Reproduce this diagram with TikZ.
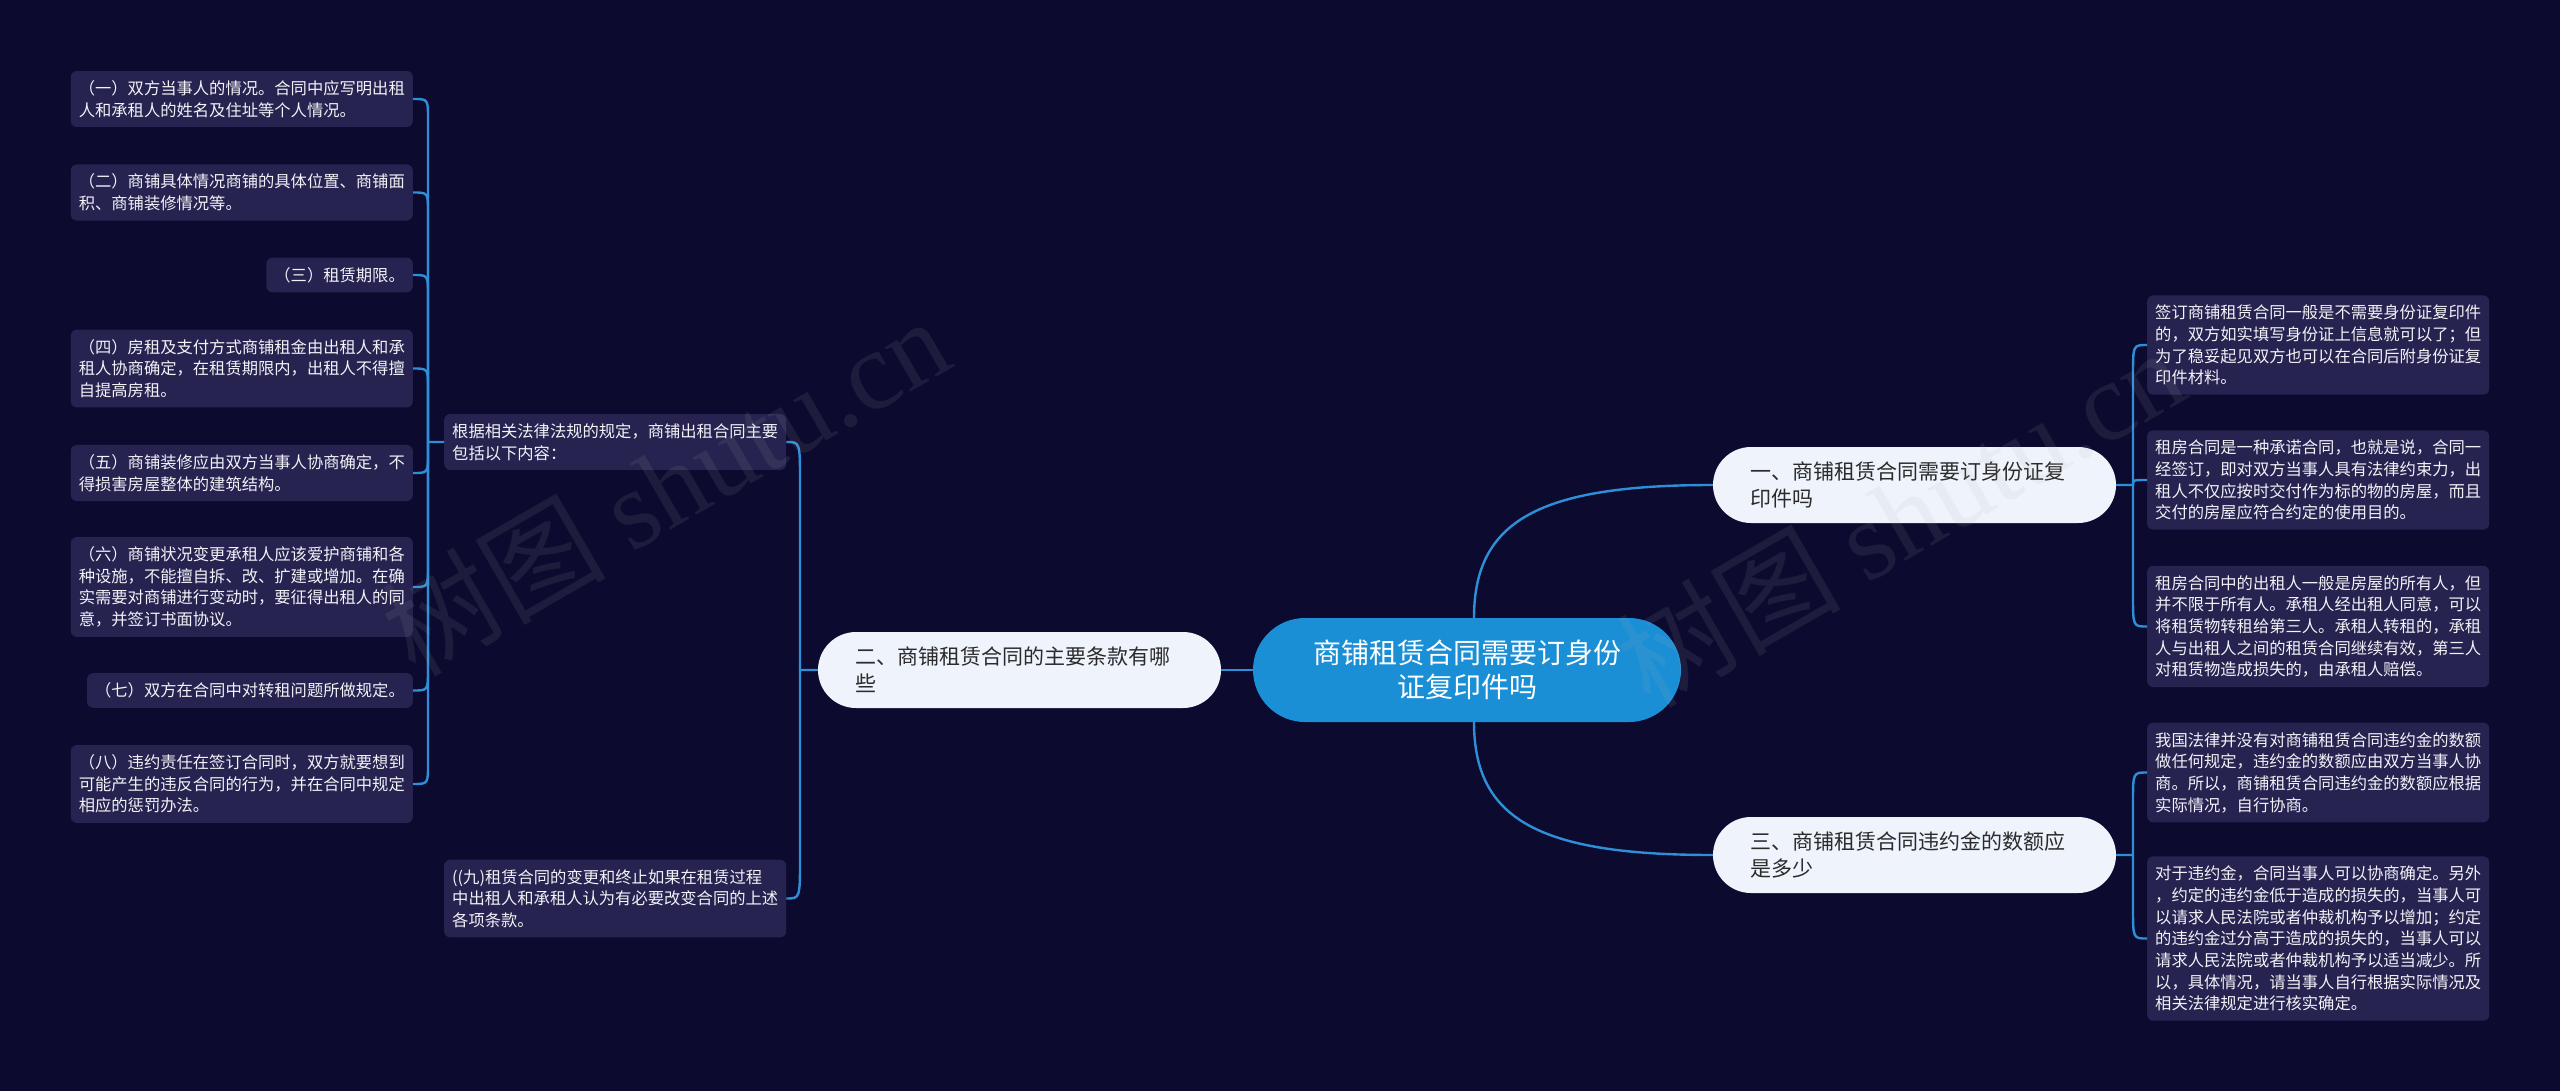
\documentclass[tikz,border=0pt]{standalone}
\usepackage{fontspec}
\setmainfont{Noto Sans CJK SC}
\newfontfamily\wmfont{Liberation Serif}
\definecolor{bg}{HTML}{0C0A2E}
\definecolor{leafbg}{HTML}{262350}
\definecolor{leaftext}{HTML}{F2F2F7}
\definecolor{linkc}{HTML}{2E8FD8}
\definecolor{rootbg}{HTML}{1B8FD6}
\definecolor{lvlbg}{HTML}{EEF3FC}
\definecolor{lvltext}{HTML}{2B2B2B}
\begin{document}
\begin{tikzpicture}[x=1pt,y=-1pt,
  leaf/.style={fill=leafbg, rounded corners=6pt, text=leaftext,
    font=\fontsize{16.3}{21.7}\selectfont, align=left, inner xsep=8pt, inner ysep=9.5pt},
  lvl/.style={fill=lvlbg, rounded corners=38pt, text=lvltext,
    font=\fontsize{21}{27}\selectfont, align=left, text width=329pt,
    minimum height=76pt, inner xsep=37pt},
  rootbox/.style={fill=rootbg, rounded corners=52pt, text=white,
    font=\fontsize{28}{34}\selectfont, align=center, text width=330pt,
    minimum height=104pt, inner xsep=49pt},
  link/.style={draw=linkc, line width=2.4pt},
  wm/.style={text=gray!60, opacity=0.11, font=\fontsize{112}{112}\selectfont}
]
\fill[bg] (0,0) rectangle (2560,1091);
\useasboundingbox (0,0) rectangle (2560,1091);

% root and level-1
\node[rootbox] (root) at (1467,670) {商铺租赁合同需要订身份\\证复印件吗};
\node[lvl] (n1) at (1914.5,485) {一、商铺租赁合同需要订身份证复\\印件吗};
\node[lvl] (n2) at (1019.5,670) {二、商铺租赁合同的主要条款有哪\\些};
\node[lvl] (n3) at (1914.5,855) {三、商铺租赁合同违约金的数额应\\是多少};

% left side
\node[leaf, anchor=west] (k0) at (444,442) {根据相关法律法规的规定，商铺出租合同主要\\包括以下内容：};
\node[leaf, anchor=west] (k9) at (444,898.5) {((九)租赁合同的变更和终止如果在租赁过程\\中出租人和承租人认为有必要改变合同的上述\\各项条款。};

\node[leaf, anchor=east] (c1) at (413,99) {（一）双方当事人的情况。合同中应写明出租\\人和承租人的姓名及住址等个人情况。};
\node[leaf, anchor=east] (c2) at (413,192.5) {（二）商铺具体情况商铺的具体位置、商铺面\\积、商铺装修情况等。};
\node[leaf, anchor=east] (c3) at (413,275) {（三）租赁期限。};
\node[leaf, anchor=east] (c4) at (413,368.5) {（四）房租及支付方式商铺租金由出租人和承\\租人协商确定，在租赁期限内，出租人不得擅\\自提高房租。};
\node[leaf, anchor=east] (c5) at (413,473) {（五）商铺装修应由双方当事人协商确定，不\\得损害房屋整体的建筑结构。};
\node[leaf, anchor=east] (c6) at (413,587) {（六）商铺状况变更承租人应该爱护商铺和各\\种设施，不能擅自拆、改、扩建或增加。在确\\实需要对商铺进行变动时，要征得出租人的同\\意，并签订书面协议。};
\node[leaf, anchor=east] (c7) at (413,690.5) {（七）双方在合同中对转租问题所做规定。};
\node[leaf, anchor=east] (c8) at (413,784) {（八）违约责任在签订合同时，双方就要想到\\可能产生的违反合同的行为，并在合同中规定\\相应的惩罚办法。};

% right side
\node[leaf, anchor=west] (r1) at (2147,345) {签订商铺租赁合同一般是不需要身份证复印件\\的，双方如实填写身份证上信息就可以了；但\\为了稳妥起见双方也可以在合同后附身份证复\\印件材料。};
\node[leaf, anchor=west] (r2) at (2147,480) {租房合同是一种承诺合同，也就是说，合同一\\经签订，即对双方当事人具有法律约束力，出\\租人不仅应按时交付作为标的物的房屋，而且\\交付的房屋应符合约定的使用目的。};
\node[leaf, anchor=west] (r3) at (2147,626.5) {租房合同中的出租人一般是房屋的所有人，但\\并不限于所有人。承租人经出租人同意，可以\\将租赁物转租给第三人。承租人转租的，承租\\人与出租人之间的租赁合同继续有效，第三人\\对租赁物造成损失的，由承租人赔偿。};
\node[leaf, anchor=west] (r4) at (2147,772.5) {我国法律并没有对商铺租赁合同违约金的数额\\做任何规定，违约金的数额应由双方当事人协\\商。所以，商铺租赁合同违约金的数额应根据\\实际情况，自行协商。};
\node[leaf, anchor=west] (r5) at (2147,938.5) {对于违约金，合同当事人可以协商确定。另外\\，约定的违约金低于造成的损失的，当事人可\\以请求人民法院或者仲裁机构予以增加；约定\\的违约金过分高于造成的损失的，当事人可以\\请求人民法院或者仲裁机构予以适当减少。所\\以，具体情况，请当事人自行根据实际情况及\\相关法律规定进行核实确定。};

% connectors
\draw[link] (root.west) -- (n2.east);
\draw[link] ([xshift=7pt]root.north) .. controls (1474,520) and (1540,485) .. (n1.west);
\draw[link] ([xshift=7pt]root.south) .. controls (1474,820) and (1540,855) .. (n3.west);

\draw[link] (n2.west) -- (800,670) -- (800,482) .. controls (800,442) .. (k0.east);
\draw[link] (800,670) -- (800,858) .. controls (800,898.5) .. (k9.east);

\draw[link] (k0.west) -- (428,442) -- (428,119) .. controls (428,99) .. (c1.east);
\draw[link] (428,442) -- (428,212) .. controls (428,192.5) .. (c2.east);
\draw[link] (428,442) -- (428,295) .. controls (428,275) .. (c3.east);
\draw[link] (428,442) -- (428,388) .. controls (428,368.5) .. (c4.east);
\draw[link] (428,442) -- (428,453) .. controls (428,473) .. (c5.east);
\draw[link] (428,442) -- (428,567) .. controls (428,587) .. (c6.east);
\draw[link] (428,442) -- (428,670) .. controls (428,690.5) .. (c7.east);
\draw[link] (428,442) -- (428,764) .. controls (428,784) .. (c8.east);

\draw[link] (n1.east) -- (2133,485) -- (2133,375) .. controls (2133,345) .. (r1.west);
\draw[link] (2133,485) .. controls (2133,480) .. (r2.west);
\draw[link] (2133,485) -- (2133,596) .. controls (2133,626.5) .. (r3.west);

\draw[link] (n3.east) -- (2133,855) -- (2133,802) .. controls (2133,772.5) .. (r4.west);
\draw[link] (2133,855) -- (2133,908) .. controls (2133,938.5) .. (r5.west);

% watermarks
\node[wm, rotate=30] (wm1) at (665,485) {树图 {\wmfont shutu.cn}};
\node[wm, rotate=30] (wm2) at (1900,516) {树图 {\wmfont shutu.cn}};
\end{tikzpicture}
\end{document}
